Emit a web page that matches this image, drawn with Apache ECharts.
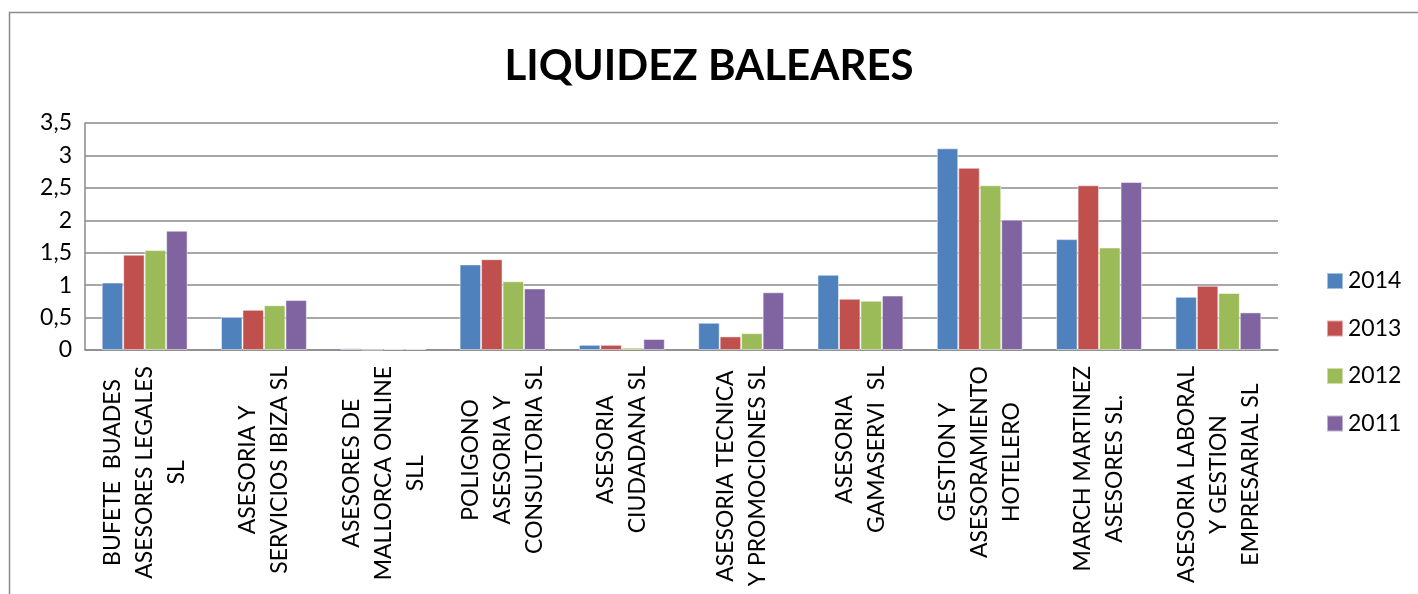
<!DOCTYPE html>
<html>
<head>
<meta charset="utf-8">
<script src="https://cdn.jsdelivr.net/npm/echarts@6/dist/echarts.min.js"></script>
<style>
  html, body { margin: 0; padding: 0; background: #fff; }
  #main { width: 1418px; height: 594px; }
</style>
</head>
<body>
<div id="main"></div>
<script>
const categories = [
    'BUFETE  BUADES\nASESORES LEGALES\nSL',
    'ASESORIA Y\nSERVICIOS IBIZA SL',
    'ASESORES DE\nMALLORCA ONLINE\nSLL',
    'POLIGONO\nASESORIA Y\nCONSULTORIA SL',
    'ASESORIA\nCIUDADANA SL',
    'ASESORIA TECNICA\nY PROMOCIONES SL',
    'ASESORIA\nGAMASERVI  SL',
    'GESTION Y\nASESORAMIENTO\nHOTELERO',
    'MARCH MARTINEZ\nASESORES SL.',
    'ASESORIA LABORAL\nY GESTION\nEMPRESARIAL SL'
];
const years = ['2014', '2013', '2012', '2011'];
const v2014 = [1.04, 0.51, 0.026, 1.32, 0.08, 0.42, 1.16, 3.11, 1.71, 0.82];
const v2013 = [1.47, 0.62, 0.005, 1.40, 0.08, 0.21, 0.79, 2.81, 2.54, 0.99];
const v2012 = [1.54, 0.69, 0.015, 1.06, 0.036, 0.26, 0.76, 2.54, 1.58, 0.88];
const v2011 = [1.84, 0.77, 0.015, 0.95, 0.17, 0.89, 0.84, 2.01, 2.59, 0.58];
const colors = ['#4F81BD', '#C0504D', '#9BBB59', '#8064A2'];

const font = 'Lato, "Open Sans", sans-serif';
const allValues = [v2014, v2013, v2012, v2011];

const chart = echarts.init(document.getElementById('main'));
chart.setOption({
    animation: false,
    color: colors,
    graphic: [{
        type: 'rect',
        shape: { x: 9.5, y: 12.5, width: 1430, height: 620 },
        style: { fill: 'none', stroke: '#8a8a8a', lineWidth: 1.5 },
        silent: true
    }],
    title: {
        text: 'LIQUIDEZ BALEARES',
        left: 'center',
        top: 40,
        textStyle: { fontFamily: font, fontWeight: 'bold', fontSize: 42, color: '#000' }
    },
    legend: {
        orient: 'vertical',
        left: 1321,
        top: 264,
        icon: 'rect',
        itemWidth: 16,
        itemHeight: 16,
        itemGap: 23.5,
        itemTextGap: 5,
        data: years,
        textStyle: { fontFamily: font, fontSize: 23, color: '#000', lineHeight: 24 }
    },
    grid: { left: 85, right: 140, top: 123, height: 227 },
    xAxis: {
        type: 'category',
        data: categories,
        axisLine: { lineStyle: { color: '#8a8a8a', width: 1.5 } },
        axisTick: { show: false },
        axisLabel: {
            rotate: 90,
            margin: 16,
            interval: 0,
            formatter: v => v.split('\n').map(s => '{c|' + s + '}').join('\n'),
            rich: {
                c: { align: 'center', fontFamily: font, fontSize: 23, lineHeight: 32, color: '#000' }
            }
        }
    },
    yAxis: {
        type: 'value',
        min: 0,
        max: 3.5,
        interval: 0.5,
        axisLine: { show: true, lineStyle: { color: '#8a8a8a', width: 1.5 } },
        axisTick: { show: false },
        splitLine: { lineStyle: { color: '#8a8a8a', width: 1.5 } },
        axisLabel: {
            margin: 13,
            fontFamily: font,
            fontSize: 23,
            color: '#000',
            formatter: v => String(v).replace('.', ',')
        }
    },
    series: years.map((y, i) => ({
        name: y,
        type: 'bar',
        data: allValues[i],
        barGap: '0%',
        barCategoryGap: '28%',
        itemStyle: { borderColor: 'rgba(255,255,255,0.5)', borderWidth: 1 }
    }))
});
</script>
</body>
</html>
